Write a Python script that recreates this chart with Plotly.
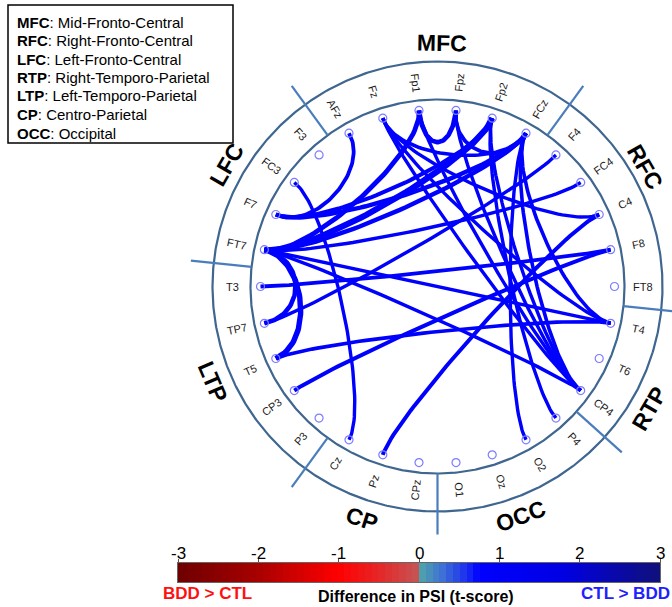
import numpy as np
import plotly.graph_objects as go

# ---------------- data ----------------
channels = ["Fp1", "Fpz", "Fp2", "FCz", "F4", "FC4", "C4", "F8", "FT8", "T4",
            "T6", "CP4", "P4", "O2", "Oz", "O1", "CPz", "Pz", "Cz", "P3",
            "CP3", "T5", "TP7", "T3", "FT7", "F7", "FC3", "F3", "AFz", "Fz"]
channel_group = ["MFC", "MFC", "MFC", "MFC", "RFC", "RFC", "RFC", "RFC", "RFC", "RTP",
                 "RTP", "RTP", "OCC", "OCC", "OCC", "OCC", "CP", "CP", "CP", "LTP",
                 "LTP", "LTP", "LTP", "LTP", "LFC", "LFC", "LFC", "LFC", "MFC", "MFC"]
group_names = ["MFC", "RFC", "RTP", "OCC", "CP", "LTP", "LFC"]
legend_abbr = ["MFC", "RFC", "LFC", "RTP", "LTP", "CP", "OCC"]
legend_desc = ["Mid-Fronto-Central", "Right-Fronto-Central", "Left-Fronto-Central",
               "Right-Temporo-Parietal", "Left-Temporo-Parietal", "Centro-Parietal", "Occipital"]

# connections (node A, node B) and t-score (CTL > BDD)
edge_a = ["Fp1", "Fpz", "Fz",  "AFz", "Fp1", "Fp2", "FCz", "FCz", "Fp2", "FCz",
          "FCz", "FCz", "Fp2", "Fp1", "Fpz", "Fp2", "Fz",  "Fz",  "C4",  "FC3",
          "F4",  "FC4", "C4",  "F8",  "F8",  "T5",  "T5",  "TP7", "FT7", "FT7"]
edge_b = ["Fpz", "FCz", "FCz", "F7",  "FT7", "FT7", "FT7", "F7",  "F7",  "T4",
          "CP4", "O2",  "P4",  "CP4", "CP4", "CP4", "CP4", "T4",  "Fz",  "Cz",
          "TP7", "FT7", "Pz",  "T3",  "CP3", "T4",  "FT7", "FT7", "CP4", "T4"]
edge_t = [1.9, 1.5, 1.4, 1.5, 2.0, 2.7, 1.8, 1.8, 1.6, 1.4,
          1.4, 1.3, 1.3, 1.3, 1.3, 1.3, 1.3, 1.3, 1.3, 1.3,
          1.3, 1.3, 1.6, 1.5, 1.6, 1.4, 2.3, 1.9, 1.3, 1.3]

cbar_ticks = [-3, -2, -1, 0, 1, 2, 3]

# ---------------- geometry helpers ----------------
n = len(channels)
ang = np.deg2rad(-6 + 12 * np.arange(n))      # clockwise from top
pos = {c: (np.sin(a), np.cos(a)) for c, a in zip(channels, ang)}
K = 0.76


def bez(a, b, m=60):
    p0 = np.array(pos[a]); p3 = np.array(pos[b])
    c1 = K * p0; c2 = K * p3
    t = np.linspace(0, 1, m)[:, None]
    pts = ((1 - t) ** 3) * p0 + 3 * ((1 - t) ** 2) * t * c1 + 3 * (1 - t) * t * t * c2 + (t ** 3) * p3
    return pts[:, 0], pts[:, 1]


W, H = 672, 607
CX, CY, R = 437.5, 286.5, 177.0
xr = [-CX / R, (W - CX) / R]
yr = [(CY - H) / R, CY / R]
FONT = "Liberation Sans, Arial"

fig = go.Figure()

# rings
R_IN, R_OUT = 187 / R, 225 / R
th = np.linspace(0, 2 * np.pi, 721)
for rr in (R_IN, R_OUT):
    fig.add_trace(go.Scatter(x=rr * np.sin(th), y=rr * np.cos(th), mode="lines",
                             line=dict(color="#3f6690", width=2.2), hoverinfo="skip",
                             showlegend=False))

# dividers between groups
for i in range(n):
    j = (i + 1) % n
    if channel_group[i] != channel_group[j]:
        a = ang[i] + np.deg2rad(6)
        r1, r2 = R_IN, 248 / R
        fig.add_trace(go.Scatter(x=[r1 * np.sin(a), r2 * np.sin(a)],
                                 y=[r1 * np.cos(a), r2 * np.cos(a)], mode="lines",
                                 line=dict(color="#4a7dbb", width=2.2), hoverinfo="skip",
                                 showlegend=False))

# edges
for a, b, t in zip(edge_a, edge_b, edge_t):
    x, y = bez(a, b)
    fig.add_trace(go.Scatter(x=x, y=y, mode="lines",
                             line=dict(color="#0000ff", width=0.8 + 2.0 * t),
                             hoverinfo="skip", showlegend=False))

# nodes
fig.add_trace(go.Scatter(x=[pos[c][0] for c in channels], y=[pos[c][1] for c in channels],
                         mode="markers",
                         marker=dict(symbol="circle-open", size=8, color="#7c7cff",
                                     line=dict(width=1.2, color="#7c7cff")),
                         hoverinfo="skip", showlegend=False))

annotations = []
# channel labels
RL = 205 / R
for c, a in zip(channels, ang):
    d = np.rad2deg(a) % 360
    ta = d - 90 if d < 180 else d - 270
    annotations.append(dict(x=RL * np.sin(a), y=RL * np.cos(a), text=c, showarrow=False,
                            textangle=ta, font=dict(size=11, color="#1a1a1a", family=FONT),
                            xanchor="center", yanchor="middle"))

# group labels
group_label_deg = [1, 60, 120, 160, 198, 247, 300]
group_label_r = [244, 240, 244, 244, 244, 244, 244]
for g, d, rg in zip(group_names, group_label_deg, group_label_r):
    a = np.deg2rad(d)
    RG = rg / R
    if d < 90:
        ta = d
    elif d > 270:
        ta = d - 360
    else:
        ta = d - 180
    annotations.append(dict(x=RG * np.sin(a), y=RG * np.cos(a), text="<b>%s</b>" % g,
                            showarrow=False, textangle=ta,
                            font=dict(size=23, color="black", family=FONT),
                            xanchor="center", yanchor="middle"))

# legend box lines
for i, (ab, ds) in enumerate(zip(legend_abbr, legend_desc)):
    annotations.append(dict(xref="paper", yref="paper", x=15 / W, y=1 - (22 + 18.5 * i) / H,
                            text="<b>%s</b>: %s" % (ab, ds), showarrow=False,
                            xanchor="left", yanchor="middle",
                            font=dict(size=15, color="black", family=FONT)))

# colorbar tick labels (placed on the colorbar's own x scale)
for v in cbar_ticks:
    annotations.append(dict(xref="x2", yref="paper", x=v, y=1 - 553 / H, text=str(v),
                            showarrow=False, xanchor="center", yanchor="middle",
                            font=dict(size=17, color="black", family=FONT)))

# colorbar labels
annotations.append(dict(xref="paper", yref="paper", x=207 / W, y=1 - 593 / H,
                        text="<b>BDD &gt; CTL</b>", showarrow=False,
                        xanchor="center", yanchor="middle",
                        font=dict(size=17, color="#ff1010", family=FONT)))
annotations.append(dict(xref="paper", yref="paper", x=416 / W, y=1 - 596 / H,
                        text="<b>Difference in PSI (t-score)</b>", showarrow=False,
                        xanchor="center", yanchor="middle",
                        font=dict(size=16, color="black", family=FONT)))
annotations.append(dict(xref="paper", yref="paper", x=625 / W, y=1 - 593 / H,
                        text="<b>CTL &gt; BDD</b>", showarrow=False,
                        xanchor="center", yanchor="middle",
                        font=dict(size=17, color="#2020ff", family=FONT)))

# colorbar as heatmap
cs = [[0.0, "#6e0000"], [0.167, "#a80000"], [0.333, "#ff0000"], [0.42, "#e42828"],
      [0.4999, "#c45656"], [0.5, "#50a6a8"], [0.55, "#3e6fd6"], [0.6, "#1a2cf0"],
      [0.625, "#0000ff"], [0.8, "#0000e2"], [1.0, "#10107a"]]
nb = 72
zc = np.linspace(-3, 3, nb)
fig.add_trace(go.Heatmap(z=[zc], x=zc, y=[0], colorscale=cs, zmin=-3, zmax=3,
                         showscale=False, xaxis="x2", yaxis="y2", hoverinfo="skip"))

fig.update_layout(
    width=W, height=H, margin=dict(l=0, r=0, t=0, b=0),
    paper_bgcolor="white", plot_bgcolor="rgba(0,0,0,0)",
    xaxis=dict(range=xr, visible=False, domain=[0, 1], fixedrange=True),
    yaxis=dict(range=yr, visible=False, domain=[0, 1], fixedrange=True),
    xaxis2=dict(domain=[178 / W, 660 / W], anchor="y2", range=[-3, 3], side="top",
                tickvals=cbar_ticks, showticklabels=False,
                ticks="outside", ticklen=3, tickcolor="#555",
                showline=True, linecolor="#666", mirror=True, showgrid=False, zeroline=False,
                fixedrange=True),
    yaxis2=dict(domain=[1 - 582 / H, 1 - 563 / H], anchor="x2", range=[-0.5, 0.5],
                showticklabels=False, ticks="", showline=True, linecolor="#666",
                mirror=True, showgrid=False, zeroline=False, fixedrange=True),
    shapes=[dict(type="rect", xref="paper", yref="paper", x0=8 / W, x1=233 / W,
                 y0=1 - 143 / H, y1=1 - 5 / H, line=dict(color="black", width=1.5))],
    annotations=annotations,
)

fig.write_html("out.html", config={"displayModeBar": False, "staticPlot": True},
               post_script="document.body.style.margin='0px';document.body.style.overflow='hidden';")
